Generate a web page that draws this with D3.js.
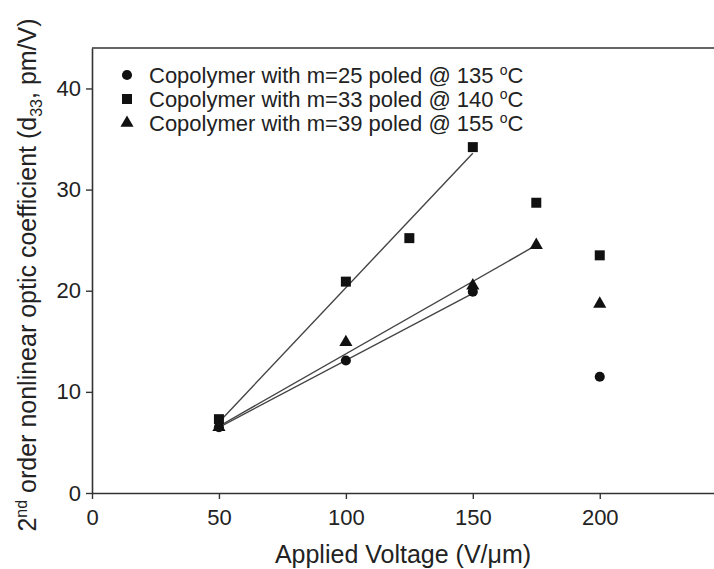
<!DOCTYPE html>
<html>
<head>
<meta charset="utf-8">
<script src="https://cdn.jsdelivr.net/npm/d3@7/dist/d3.min.js"></script>
<style>
  html, body { margin: 0; padding: 0; background: #fff; }
  svg { display: block; font-family: "Liberation Sans", Arial, Helvetica, sans-serif; }
</style>
</head>
<body>
<svg id="chart" width="714" height="569"></svg>
<script>
// Applied poling field (V/µm) for each measurement
const voltM25 = [50, 100, 150, 200];
const d33M25  = [6.5, 13.1, 19.9, 11.5];

const voltM33 = [50, 100, 125, 150, 175, 200];
const d33M33  = [7.3, 20.9, 25.2, 34.2, 28.7, 23.5];

const voltM39 = [50, 100, 150, 175, 200];
const d33M39  = [6.5, 14.9, 20.5, 24.5, 18.7];

// Linear fits over the rising part of each series (endpoints)
const fitVolt = { m25: [50, 150], m33: [50, 150], m39: [50, 175] };
const fitD33  = { m25: [6.5, 19.75], m33: [7.0, 33.6], m39: [6.6, 24.5] };

const xTicks = [0, 50, 100, 150, 200];
const yTicks = [0, 10, 20, 30, 40];

const legendLabels = [
  { text: "Copolymer with m=25 poled @ 135 ", shape: "circle" },
  { text: "Copolymer with m=33 poled @ 140 ", shape: "square" },
  { text: "Copolymer with m=39 poled @ 155 ", shape: "triangle" }
];

const svg = d3.select("#chart");
const plotLeft = 92, plotRight = 714, plotTop = 48, plotBottom = 493;

const x = d3.scaleLinear().domain([0, 245]).range([plotLeft, plotRight]);
const y = d3.scaleLinear().domain([0, 44]).range([plotBottom, plotTop]);

const axisColor = "#333";
const markColor = "#111";
const lineColor = "#444";
const textColor = "#222";

// top frame line
svg.append("line")
  .attr("x1", plotLeft).attr("x2", plotRight)
  .attr("y1", plotTop).attr("y2", plotTop)
  .attr("stroke", "#666").attr("stroke-width", 1.8);

// x axis
const gx = svg.append("g")
  .attr("transform", `translate(0,${plotBottom})`)
  .call(d3.axisBottom(x).tickValues(xTicks).tickSize(6).tickPadding(10).tickSizeOuter(0));
gx.select(".domain").attr("stroke", axisColor).attr("stroke-width", 1.6);
gx.selectAll(".tick line").attr("stroke", axisColor).attr("stroke-width", 1.4);
gx.selectAll(".tick text").attr("fill", textColor).attr("font-size", 22)
  .attr("font-family", "'Liberation Sans', Arial, sans-serif");

// y axis
const gy = svg.append("g")
  .attr("transform", `translate(${plotLeft},0)`)
  .call(d3.axisLeft(y).tickValues(yTicks).tickSize(6).tickPadding(5).tickSizeOuter(0));
gy.select(".domain").attr("stroke", axisColor).attr("stroke-width", 1.6);
gy.selectAll(".tick line").attr("stroke", axisColor).attr("stroke-width", 1.4);
gy.selectAll(".tick text").attr("fill", textColor).attr("font-size", 22)
  .attr("font-family", "'Liberation Sans', Arial, sans-serif");

// axis titles
svg.append("text")
  .attr("x", (plotLeft + plotRight) / 2).attr("y", 563)
  .attr("text-anchor", "middle")
  .attr("font-size", 25).attr("fill", textColor)
  .text("Applied Voltage (V/\u03BCm)");

const yt = svg.append("text")
  .attr("transform", "translate(36,275) rotate(-90)")
  .attr("text-anchor", "middle")
  .attr("font-size", 25).attr("fill", textColor);
yt.append("tspan").text("2");
yt.append("tspan").attr("font-size", 16).attr("dy", -9).text("nd");
yt.append("tspan").attr("dy", 9).text(" order nonlinear optic coefficient (d");
yt.append("tspan").attr("font-size", 16).attr("dy", 6).text("33");
yt.append("tspan").attr("dy", -6).text(", pm/V)");

// fit lines
const line = d3.line().x(d => x(d[0])).y(d => y(d[1]));
["m25", "m33", "m39"].forEach(k => {
  svg.append("path")
    .datum(d3.zip(fitVolt[k], fitD33[k]))
    .attr("d", line)
    .attr("fill", "none")
    .attr("stroke", lineColor)
    .attr("stroke-width", 1.4);
});

// marker shapes
const symCircle = d3.symbol().type(d3.symbolCircle).size(80);
const symSquare = d3.symbol().type(d3.symbolSquare).size(100);
const symTriangle = d3.symbol().type(d3.symbolTriangle).size(75);
const shapes = { circle: symCircle, square: symSquare, triangle: symTriangle };

function drawSeries(xs, ys, shape) {
  svg.append("g").selectAll("path")
    .data(d3.zip(xs, ys))
    .join("path")
    .attr("transform", d => `translate(${x(d[0])},${y(d[1])})`)
    .attr("d", shapes[shape]())
    .attr("fill", markColor);
}
drawSeries(voltM33, d33M33, "square");
drawSeries(voltM39, d33M39, "triangle");
drawSeries(voltM25, d33M25, "circle");

// legend
const lg = svg.append("g");
legendLabels.forEach((d, i) => {
  const cy = 75 + i * 24;
  lg.append("path")
    .attr("transform", `translate(127,${cy})`)
    .attr("d", shapes[d.shape]())
    .attr("fill", markColor);
  const t = lg.append("text")
    .attr("x", 149).attr("y", cy + 8)
    .attr("font-size", 22).attr("fill", textColor);
  t.append("tspan").text(d.text);
  t.append("tspan").attr("font-size", 14).attr("dy", -8).text("o");
  t.append("tspan").attr("dy", 8).text("C");
});
</script>
</body>
</html>
